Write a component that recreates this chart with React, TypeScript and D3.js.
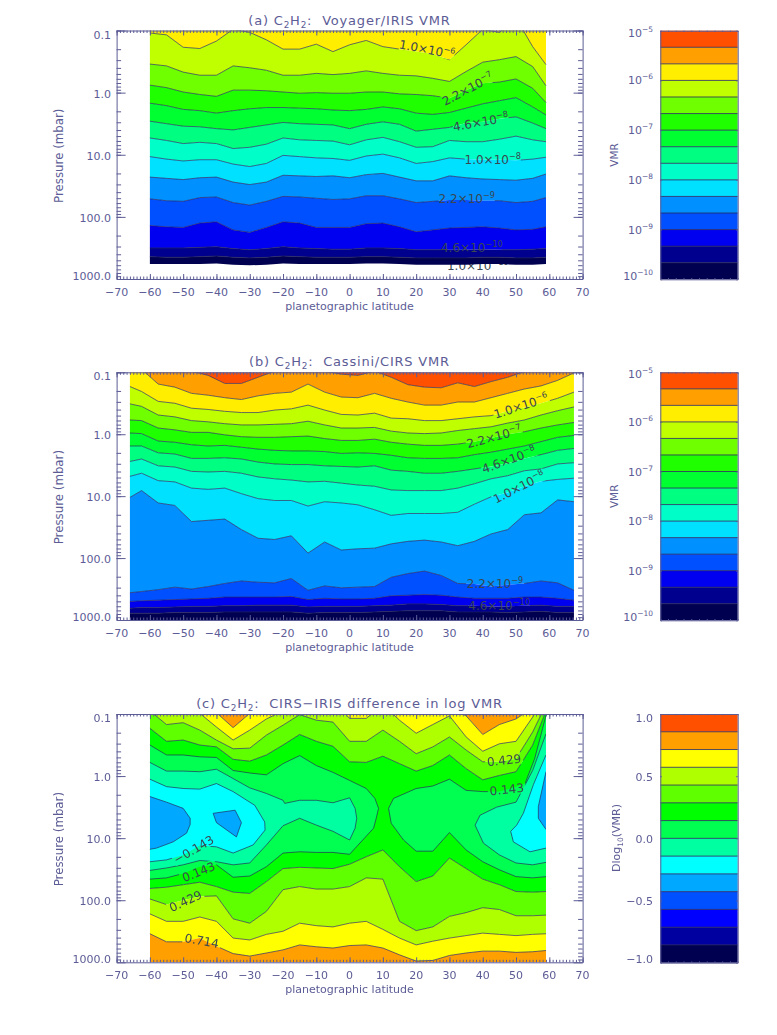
import React, { useEffect, useRef } from 'react';
import * as d3 from 'd3';

// log10(pressure / mbar) of each contour
const irisLat = [-60,-55,-50,-45,-40,-35,-30,-25,-20,-15,-10,-5,0,5,10,15,20,25,30,35,40,45,50,55,59];
const iris1 = [-0.96,-0.93,-0.73,-0.71,-0.83,-1.02,-0.97,-0.85,-0.70,-0.70,-0.78,-0.66,-0.77,-0.84,-0.74,-0.70,-0.66,-0.62,-0.53,-0.77,-1.02,-0.97,-1.2,-0.74,-0.45];
const iris2 = [-0.46,-0.43,-0.33,-0.28,-0.28,-0.43,-0.40,-0.36,-0.28,-0.28,-0.31,-0.29,-0.31,-0.35,-0.31,-0.28,-0.27,-0.23,-0.18,-0.34,-0.49,-0.53,-0.58,-0.42,-0.11];
const iris3 = [-0.12,-0.08,-0.01,0.03,0.06,-0.04,-0.04,-0.03,-0.01,0.01,0,0.01,0.01,-0.01,-0.01,0.02,0.03,0.05,0.09,-0.04,-0.15,-0.17,-0.22,-0.07,0.16];
const iris4 = [0.17,0.21,0.27,0.29,0.33,0.29,0.26,0.24,0.24,0.25,0.26,0.28,0.29,0.27,0.23,0.26,0.33,0.35,0.32,0.25,0.18,0.13,0.08,0.23,0.36];
const iris5 = [0.46,0.50,0.54,0.55,0.58,0.60,0.56,0.52,0.48,0.50,0.51,0.52,0.58,0.51,0.47,0.51,0.62,0.59,0.56,0.49,0.47,0.42,0.39,0.49,0.58];
const iris6 = [0.73,0.77,0.82,0.80,0.82,0.90,0.88,0.83,0.73,0.76,0.77,0.78,0.84,0.76,0.72,0.79,0.88,0.87,0.77,0.79,0.79,0.75,0.70,0.76,0.79];
const iris7 = [1.03,1.07,1.10,1.08,1.08,1.15,1.19,1.14,1.01,1.03,1.05,1.06,1.09,1.02,0.99,1.05,1.14,1.11,1.05,1.07,1.08,1.08,1.09,1.07,1.04];
const iris8 = [1.36,1.38,1.40,1.37,1.36,1.44,1.48,1.44,1.33,1.34,1.35,1.34,1.37,1.32,1.30,1.36,1.42,1.42,1.34,1.37,1.39,1.40,1.41,1.38,1.31];
const iris9 = [1.71,1.74,1.75,1.69,1.68,1.77,1.81,1.75,1.67,1.68,1.70,1.72,1.71,1.66,1.66,1.71,1.77,1.75,1.73,1.73,1.74,1.74,1.77,1.75,1.69];
const iris10 = [2.14,2.16,2.17,2.10,2.08,2.21,2.25,2.17,2.08,2.10,2.17,2.17,2.17,2.11,2.10,2.16,2.24,2.21,2.18,2.17,2.16,2.18,2.21,2.20,2.16];
const iris11 = [2.50,2.50,2.50,2.49,2.48,2.51,2.53,2.51,2.48,2.50,2.51,2.52,2.52,2.50,2.50,2.51,2.53,2.53,2.53,2.53,2.52,2.53,2.53,2.52,2.51];
const iris12 = [2.64,2.65,2.65,2.64,2.63,2.65,2.66,2.65,2.63,2.64,2.65,2.65,2.65,2.64,2.64,2.65,2.66,2.66,2.66,2.66,2.65,2.65,2.66,2.66,2.65];
const iris13 = [2.76,2.76,2.76,2.76,2.75,2.77,2.78,2.77,2.75,2.76,2.76,2.76,2.76,2.75,2.75,2.76,2.77,2.77,2.77,2.77,2.76,2.76,2.77,2.77,2.76];

const cirsLat = [-66,-62.5,-57.5,-52.5,-47.5,-42.5,-37.5,-32.5,-27.5,-22.5,-17.5,-12.5,-7.5,-2.5,2.5,7.5,12.5,17.5,22.5,27.5,32.5,37.5,42.5,47.5,52.5,57.5,62.5,67.4];
const cirs0 = [-1.06,-1.06,-1.06,-1.06,-1.02,-0.95,-0.82,-0.82,-0.92,-1.02,-1.02,-1.04,-1.02,-0.97,-0.95,-1.02,-0.92,-0.80,-0.76,-0.75,-0.83,-0.77,-0.85,-0.92,-1.01,-1.06,-1.06,-1.06];
const cirs1 = [-1.06,-1.05,-0.81,-0.76,-0.66,-0.63,-0.59,-0.56,-0.62,-0.66,-0.68,-0.81,-0.68,-0.60,-0.59,-0.66,-0.58,-0.52,-0.47,-0.47,-0.52,-0.52,-0.59,-0.66,-0.73,-0.78,-0.87,-0.99];
const cirs2 = [-0.77,-0.69,-0.53,-0.50,-0.42,-0.40,-0.37,-0.35,-0.35,-0.39,-0.41,-0.47,-0.39,-0.32,-0.31,-0.34,-0.26,-0.25,-0.22,-0.22,-0.25,-0.28,-0.30,-0.37,-0.43,-0.50,-0.58,-0.68];
const cirs3 = [-0.49,-0.45,-0.31,-0.28,-0.22,-0.20,-0.17,-0.15,-0.15,-0.16,-0.17,-0.21,-0.15,-0.10,-0.10,-0.11,-0.05,-0.02,-0.01,-0.02,-0.06,-0.09,-0.12,-0.18,-0.23,-0.31,-0.38,-0.44];
const cirs4 = [-0.23,-0.22,-0.10,-0.07,-0.03,-0.03,0.01,0.04,0.05,0.05,0.04,0.03,0.07,0.10,0.10,0.08,0.13,0.16,0.18,0.18,0.16,0.12,0.06,0,-0.04,-0.10,-0.15,-0.19];
const cirs5 = [-0.02,-0.01,0.11,0.13,0.17,0.19,0.18,0.21,0.24,0.26,0.27,0.27,0.28,0.31,0.30,0.31,0.34,0.38,0.39,0.39,0.38,0.33,0.29,0.24,0.19,0.12,0.05,0.02];
const cirs6 = [0.19,0.19,0.30,0.32,0.39,0.39,0.38,0.40,0.45,0.48,0.49,0.49,0.51,0.52,0.53,0.51,0.58,0.60,0.63,0.63,0.60,0.56,0.52,0.47,0.39,0.33,0.26,0.23];
const cirs7 = [0.44,0.40,0.51,0.53,0.60,0.61,0.60,0.63,0.69,0.72,0.74,0.77,0.76,0.79,0.82,0.84,0.90,0.91,0.91,0.91,0.87,0.80,0.72,0.67,0.59,0.56,0.48,0.46];
const cirs8 = [0.68,0.63,0.75,0.77,0.87,0.89,0.87,0.96,1.04,1.07,1.07,1.16,1.09,1.11,1.14,1.22,1.31,1.28,1.28,1.28,1.26,1.13,1.01,0.94,0.84,0.76,0.73,0.71];
const cirs9 = [1.02,0.91,1.11,1.15,1.41,1.39,1.37,1.54,1.68,1.70,1.64,1.92,1.74,1.87,1.85,1.84,1.77,1.73,1.71,1.74,1.80,1.73,1.61,1.54,1.30,1.27,1.06,1.09];
const cirs10 = [2.56,2.54,2.51,2.47,2.50,2.46,2.41,2.37,2.39,2.40,2.33,2.52,2.45,2.48,2.47,2.46,2.31,2.25,2.21,2.28,2.41,2.42,2.46,2.43,2.41,2.37,2.40,2.52];
const cirs11 = [2.70,2.69,2.68,2.67,2.66,2.65,2.63,2.63,2.63,2.63,2.62,2.67,2.65,2.66,2.66,2.65,2.61,2.60,2.59,2.60,2.63,2.65,2.65,2.65,2.63,2.63,2.65,2.68];
const cirs12 = [2.81,2.80,2.80,2.79,2.78,2.78,2.77,2.77,2.76,2.76,2.76,2.79,2.78,2.78,2.78,2.77,2.76,2.74,2.74,2.75,2.77,2.77,2.78,2.78,2.77,2.76,2.78,2.78];
const cirs13 = [2.89,2.89,2.89,2.88,2.88,2.88,2.87,2.87,2.87,2.87,2.87,2.89,2.88,2.88,2.88,2.87,2.86,2.85,2.85,2.85,2.87,2.87,2.87,2.88,2.87,2.86,2.88,2.88];

// panel (c): contours that run the whole width, on the iris latitudes
const diffUp714 = [-1.1,-1.1,-1.1,-1.1,-1.02,-0.78,-1.01,-1.1,-1.1,-1.1,-1.1,-1.1,-1.1,-1.1,-1.1,-1.1,-1.1,-1.1,-1.1,-0.97,-0.67,-0.83,-0.92,-1.1,-1.1];
const diffUp571 = [-1.1,-1.1,-1.1,-1.01,-0.79,-0.58,-0.74,-0.92,-1.05,-1.1,-1.1,-1.2,-0.93,-0.93,-1.15,-0.90,-0.69,-0.83,-0.97,-0.63,-0.40,-0.52,-0.56,-0.95,-1.3];
const diffUp429 = [-1.05,-0.83,-0.86,-0.74,-0.58,-0.44,-0.45,-0.66,-0.82,-0.99,-0.90,-0.87,-0.56,-0.56,-0.74,-0.56,-0.36,-0.47,-0.63,-0.42,-0.23,-0.23,-0.28,-0.71,-1.15];
const diffUp286 = [-0.77,-0.56,-0.58,-0.50,-0.47,-0.27,-0.24,-0.34,-0.50,-0.67,-0.56,-0.48,-0.23,-0.22,-0.32,-0.20,-0.08,-0.17,-0.34,-0.12,0.06,-0.01,-0.07,-0.50,-1.05];
const diffLo286 = [1.81,1.79,1.75,1.71,1.78,1.87,1.89,1.70,1.49,1.47,1.48,1.49,1.42,1.30,1.19,1.46,1.70,1.61,1.32,1.49,1.66,1.75,1.86,1.87,1.86];
const diffLo429 = [1.98,2.07,2.00,1.94,1.93,2.30,2.37,2.18,1.83,1.78,1.82,1.82,1.78,1.64,1.66,2.34,2.49,2.43,2.26,2.20,2.12,2.15,2.25,2.25,2.24];
const diffLo571 = [2.22,2.34,2.34,2.27,2.34,2.61,2.64,2.55,2.50,2.37,2.41,2.43,2.37,2.34,2.47,2.61,2.72,2.66,2.61,2.57,2.53,2.55,2.57,2.55,2.54];
const diffLo714 = [2.54,2.67,2.67,2.61,2.74,2.86,2.90,2.85,2.80,2.72,2.75,2.77,2.73,2.72,2.77,2.88,2.98,2.97,2.89,2.85,2.82,2.82,2.84,2.83,2.81];

// panel (c): contours that close on themselves, as [latitude, log10 p]
const ringLeft143 = [[-60,-.50],[-55,-.34],[-50,-.34],[-45,-.31],[-40,-.30],[-35,-.09],[-30,-.05],[-25,-.02],[-20,-.20],[-15,-.33],[-10,-.17],[-5,-.06],[0,.07],[5,.20],[7.6,.36],[8.7,.52],[8,.68],[7.2,.84],[0,1.26],[-5,1.23],[-10,1.23],[-15,1.22],[-20,1.24],[-25,1.46],[-30,1.61],[-35,1.63],[-40,1.43],[-45,1.46],[-50,1.57],[-55,1.64],[-60,1.66]];
const ringRight143 = [[59,-.98],[58,-.77],[55.6,-.28],[52.7,.12],[50,.17],[45,.25],[40,.25],[35,.23],[30,.05],[25,.16],[20,.20],[13.2,.36],[11.7,.52],[12.5,.76],[16.2,1.03],[20,1.21],[25,1.21],[30,.91],[35,1.19],[40,1.38],[45,1.51],[50,1.62],[55,1.64],[59,1.62]];
const ringLeft0 = [[-60,-.22],[-55,-.08],[-50,-.08],[-45,-.07],[-40,-.11],[-35,.04],[-30,.19],[-25,.28],[-20,.39],[-19.5,.44],[-15,.39],[-10,.39],[-5,.43],[0,.35],[1.65,.52],[2.15,.68],[1.65,.84],[0,1.03],[-5,.89],[-10,.79],[-15,.68],[-20,.80],[-25,1.11],[-30,1.40],[-35,1.43],[-40,1.38],[-45,1.36],[-50,1.43],[-55,1.48],[-60,1.52]];
const ringRight0 = [[59,-.68],[55,-.09],[50,.42],[44.2,.50],[39.2,.63],[37.7,.79],[40.2,1.08],[45,1.27],[50,1.40],[55,1.43],[59,1.39]];
const ringLeftM143 = [[-60,.05],[-55,.17],[-50,.20],[-45,.21],[-40,.12],[-35,.25],[-30,.42],[-28.5,.47],[-25.5,.74],[-25.4,.87],[-29,1.11],[-35,1.24],[-40,1.14],[-45,1.12],[-50,1.27],[-55,1.35],[-60,1.38]];
const ringRightM143 = [[59,-.34],[55.2,.14],[52.2,.60],[50.2,.79],[48.4,.89],[49.2,1.06],[54.2,1.22],[59,1.16]];
const ringLeftM286 = [[-60,.33],[-55,.42],[-50,.52],[-47.9,.68],[-47.9,.78],[-49,.92],[-53,1.06],[-58,1.16],[-60,1.18]];
const ringMidM286 = [[-41,.60],[-34.4,.55],[-32.5,.75],[-34,.98],[-40,.75],[-41,.60]];
const ringRightM286 = [[59,-.07],[56.7,.49],[56.7,.68],[59,.86]];

const vmrColors = ['#ff5000','#ffa000','#ffee00','#c0ff00','#70ff00','#20ff00','#00ff30','#00ff80','#00ffc8','#00e0ff','#0090ff','#0050ff','#0000f0','#00008f','#000050'];
const diffColors = ['#ff5000','#ffa000','#ffff00','#b0ff00','#60ff00','#00ff00','#00ff50','#00ffa0','#00ffff','#00a8ff','#0050ff','#0000ff','#0000a0','#000050'];

const latTicks = [-70,-60,-50,-40,-30,-20,-10,0,10,20,30,40,50,60,70];
const pressureTicks = [0.1,1,10,100,1000];
const vmrBarTicks = [-5,-6,-7,-8,-9,-10];
const diffBarTicks = [1,0.5,0,-0.5,-1];

// label: [mantissa, exponent, lat, log10 p, angle, width of the gap in the line]
const irisLabels = [
  ['1.0', '−6', 23.3, -0.70, 11, 56], ['2.2', '−7', 35.5, -0.06, -28, 58], ['4.6', '−8', 39.4, 0.47, -10, 56],
  ['1.0', '−8', 43, 1.07, 0, 56], ['2.2', '−9', 35.2, 1.71, 0, 56], ['4.6', '−10', 36.7, 2.50, 0, 60],
];
const cirsLabels = [
  ['1.0', '−6', 51.5, -0.46, -18, 58], ['2.2', '−7', 43.4, 0.04, -15, 58], ['4.6', '−8', 47.8, 0.41, -20, 58],
  ['1.0', '−8', 50.9, 0.85, -27, 58], ['2.2', '−9', 43.7, 2.41, 0, 58], ['4.6', '−10', 44.9, 2.76, 0, 62],
];
const diffLabels = [
  ['−0.143', '', -46.9, 1.18, -30, 46], ['0.143', '', -45.4, 1.54, -22, 38], ['0.429', '', -49.3, 2.01, -25, 38],
  ['0.714', '', -44.4, 2.65, 10, 38], ['0.429', '', 46.4, -0.26, -6, 38], ['0.143', '', 47.2, 0.21, -6, 38],
];

const INK = '#5c5c96';
const LINE = '#26265c';
const FONT = '"DejaVu Sans", sans-serif';

function rich(sel: any, parts: any[]) {
  // parts: [text, shift], shift -1 subscript, 1 superscript
  let prev = 0;
  parts.forEach(([t, s]) => {
    const off = s === 1 ? -5 : s === -1 ? 3 : 0;
    sel.append('tspan').attr('dy', off - prev).attr('font-size', s ? '0.68em' : null).text(t);
    prev = off;
  });
}

function title(svg: any, x: number, y: number, parts: any[], angle = 0, size = 13, spacing = 0.8) {
  const t = svg.append('text')
    .attr('transform', `translate(${x},${y}) rotate(${angle})`)
    .attr('text-anchor', 'middle').attr('font-family', FONT).attr('font-size', size)
    .attr('letter-spacing', spacing).attr('fill', INK).style('white-space', 'pre');
  rich(t, parts);
  return t;
}

function boxAxes(svg: any, x: any, y: any, xMinor: number[], yMinor: number[], xLen: number, yLen: number, xMajor: number[], yMajor: number[]) {
  const [x0, x1] = x.range();
  const y0 = Math.min(...y.range());
  const y1 = Math.max(...y.range());
  const sides = [
    [d3.axisBottom(x), `translate(0,${y1})`, -xLen, xMajor, xMinor],
    [d3.axisTop(x), `translate(0,${y0})`, -xLen, xMajor, xMinor],
    [d3.axisLeft(y), `translate(${x0},0)`, -yLen, yMajor, yMinor],
    [d3.axisRight(y), `translate(${x1},0)`, -yLen, yMajor, yMinor],
  ] as any[];
  sides.forEach(([axis, tr, len, major, minor]) => {
    const g = svg.append('g').attr('transform', tr).attr('color', INK).attr('fill', 'none');
    g.call(axis.tickValues(minor).tickSize(len / 2).tickSizeOuter(0).tickFormat(() => ''));
    g.call((s: any) => s.selectAll('text').remove());
    const g2 = svg.append('g').attr('transform', tr).attr('color', INK).attr('fill', 'none');
    g2.call(axis.tickValues(major).tickSize(len).tickSizeOuter(0).tickFormat(() => ''));
    g2.call((s: any) => { s.selectAll('text').remove(); s.select('.domain').remove(); });
  });
}

function drawFrame(svg: any, top: number, bottom: number, heading: any[]) {
  const x = d3.scaleLinear().domain([-70, 70]).range([116.6, 582.6]);
  const y = d3.scaleLog().domain([0.1, 1000]).range([top, bottom]);
  const xMinor = d3.range(-70, 71, 1);
  const yMinor = d3.range(-1, 3).flatMap(e => d3.range(1, 10).map(m => m * 10 ** e));
  title(svg, 349.5, top - 6, heading);
  return { x, y, xMinor, yMinor };
}

function frameOnTop(svg: any, f: any, top: number, bottom: number, yTitle = 'Pressure (mbar)') {
  boxAxes(svg, f.x, f.y, f.xMinor, f.yMinor, 5, 9, latTicks, pressureTicks);
  const lab = (t: string, xp: number, yp: number, anchor = 'middle') => svg.append('text')
    .attr('x', xp).attr('y', yp).attr('text-anchor', anchor).attr('font-family', FONT)
    .attr('font-size', 11).attr('fill', INK).text(t);
  latTicks.forEach(v => lab(v < 0 ? `−${-v}` : `${v}`, f.x(v), bottom + 17));
  pressureTicks.forEach((p, i) => {
    const shift = i === 0 ? 8 : i === pressureTicks.length - 1 ? 1 : 5;
    lab(p < 1 ? '0.1' : p.toFixed(1), 111, f.y(p) + shift, 'end');
  });
  lab('planetographic latitude', 349.5, bottom + 31);
  title(svg, 63, (top + bottom) / 2 + 1, [[yTitle, 0]], -90, 11.8, 0);
}

function contourLabels(g: any, f: any, labels: any[]) {
  labels.forEach(([m, e, lat, lp, a]) => {
    const t = g.append('text')
      .attr('transform', `translate(${f.x(lat)},${f.y(10 ** lp)}) rotate(${a})`)
      .attr('y', 4.5).attr('text-anchor', 'middle').attr('font-family', FONT)
      .attr('font-size', 12).attr('fill', '#3a4650');
    rich(t, e ? [[`${m}×10`, 0], [e, 1]] : [[m, 0]]);
  });
}

function lineMask(svg: any, f: any, id: string, labels: any[]) {
  const m = svg.append('mask').attr('id', id).attr('maskUnits', 'userSpaceOnUse')
    .attr('x', 0).attr('y', 0).attr('width', 777).attr('height', 1035);
  m.append('rect').attr('width', 777).attr('height', 1035).attr('fill', '#fff');
  labels.forEach(([, , lat, lp, a, w]) => {
    m.append('rect').attr('x', -w / 2).attr('y', -6).attr('width', w).attr('height', 12).attr('fill', '#000')
      .attr('transform', `translate(${f.x(lat)},${f.y(10 ** lp)}) rotate(${a})`);
  });
}

function stackedPanel(svg: any, opts: any) {
  const { top, bottom, heading, lats, contours, firstBand, floor, labels, id, under } = opts;
  const f = drawFrame(svg, top, bottom, heading);
  const xs = lats.map((d: number) => f.x(d));
  const yOf = (v: number) => f.y(10 ** v);
  svg.append('clipPath').attr('id', `${id}-clip`).append('rect')
    .attr('x', 116.6).attr('y', top).attr('width', 466).attr('height', bottom - top);
  const plot = svg.append('g').attr('clip-path', `url(#${id}-clip)`);
  if (under) contourLabels(plot, f, under);

  // the band above the first contour, then one band between each pair of contours
  const area = (upper: any, lower: any) => d3.area<number>()
    .x((_, i) => xs[i]).y0((_, i) => (upper ? yOf(upper[i]) : top)).y1((_, i) => (lower ? yOf(lower[i]) : bottom));
  const edges = [null, ...contours, ...(floor ? [] : [null])];
  d3.range(edges.length - 1).forEach(k => {
    plot.append('path').attr('d', area(edges[k], edges[k + 1])(lats)).attr('fill', vmrColors[firstBand + k]);
  });

  lineMask(svg, f, `${id}-mask`, labels);
  const lines = plot.append('g').attr('mask', `url(#${id}-mask)`);
  const line = d3.line<number>().x((_, i) => xs[i]).y(d => yOf(d));
  contours.slice(0, floor ? contours.length - 1 : contours.length).forEach((c: number[]) => {
    lines.append('path').attr('d', line(c)).attr('fill', 'none').attr('stroke', LINE).attr('stroke-width', 0.8).attr('opacity', 0.85);
  });
  contourLabels(plot, f, labels);
  frameOnTop(svg, f, top, bottom);
}

function diffPanel(svg: any, top: number, bottom: number, heading: any[]) {
  const id = 'diff';
  const f = drawFrame(svg, top, bottom, heading);
  const xs = irisLat.map(d => f.x(d));
  const yOf = (v: number) => f.y(10 ** v);
  svg.append('clipPath').attr('id', `${id}-clip`).append('rect')
    .attr('x', f.x(-60)).attr('y', top).attr('width', f.x(59) - f.x(-60)).attr('height', bottom - top);
  const plot = svg.append('g').attr('clip-path', `url(#${id}-clip)`);

  const whole = [diffUp714, diffUp571, diffUp429, diffUp286, diffLo286, diffLo429, diffLo571, diffLo714];
  const wholeBands = [1, 2, 3, 4, 5, 4, 3, 2, 1];
  const edges: any[] = [null, ...whole, null];
  wholeBands.forEach((b, k) => {
    const a = d3.area<number>().x((_, i) => xs[i])
      .y0((_, i) => (edges[k] ? yOf(edges[k][i]) : top))
      .y1((_, i) => (edges[k + 1] ? yOf(edges[k + 1][i]) : bottom));
    plot.append('path').attr('d', a(irisLat)).attr('fill', diffColors[b]);
  });

  const ringLine = d3.line<number[]>().x(d => f.x(d[0])).y(d => yOf(d[1]));
  const rings: [number[][], number][] = [
    [ringLeft143, 6], [ringRight143, 6], [ringLeft0, 7], [ringRight0, 7],
    [ringLeftM143, 8], [ringRightM143, 8], [ringLeftM286, 9], [ringMidM286, 9], [ringRightM286, 9],
  ];
  rings.forEach(([r, b]) => plot.append('path').attr('d', ringLine(r)).attr('fill', diffColors[b]));

  lineMask(svg, f, `${id}-mask`, diffLabels);
  const lines = plot.append('g').attr('mask', `url(#${id}-mask)`);
  const line = d3.line<number>().x((_, i) => xs[i]).y(d => yOf(d));
  whole.forEach(c => lines.append('path').attr('d', line(c)).attr('fill', 'none').attr('stroke', LINE).attr('stroke-width', 0.8).attr('opacity', 0.85));
  rings.forEach(([r]) => lines.append('path').attr('d', ringLine(r)).attr('fill', 'none').attr('stroke', LINE).attr('stroke-width', 0.8).attr('opacity', 0.85));
  contourLabels(plot, f, diffLabels);
  frameOnTop(svg, f, top, bottom);
}

function colorBar(svg: any, top: number, bottom: number, lo: number, hi: number, colors: string[]) {
  const x = d3.scaleLinear().domain([0, 10]).range([660.3, 737.7]);
  const y = d3.scaleLinear().domain([lo, hi]).range([bottom, top]);
  const edges = d3.range(colors.length + 1).map(i => hi - (i * (hi - lo)) / colors.length);
  colors.forEach((c, i) => {
    svg.append('rect').attr('x', x(0)).attr('width', x(10) - x(0))
      .attr('y', y(edges[i])).attr('height', y(edges[i + 1]) - y(edges[i])).attr('fill', c);
  });
  edges.slice(1, -1).forEach(e => {
    svg.append('line').attr('x1', x(0)).attr('x2', x(10)).attr('y1', y(e)).attr('y2', y(e))
      .attr('stroke', LINE).attr('stroke-width', 0.8);
  });
  boxAxes(svg, x, y, d3.range(0, 11), [], 2.5, 1.5, [], y.ticks(5));
}

function App() {
  const ref = useRef<SVGSVGElement>(null);

  useEffect(() => {
    const svg = d3.select(ref.current);
    svg.selectAll('*').remove();

    stackedPanel(svg, {
      id: 'iris', top: 30.5, bottom: 279, lats: irisLat, firstBand: 2, floor: true, labels: irisLabels,
      contours: [iris1, iris2, iris3, iris4, iris5, iris6, iris7, iris8, iris9, iris10, iris11, iris12, iris13],
      heading: [['(a) C', 0], ['2', -1], ['H', 0], ['2', -1], [':  Voyager/IRIS VMR', 0]],
      under: [['1.0', '−10', 38.5, 2.79, 0, 0]],
    });
    stackedPanel(svg, {
      id: 'cirs', top: 372.3, bottom: 620, lats: cirsLat, firstBand: 0, floor: false, labels: cirsLabels,
      contours: [cirs0, cirs1, cirs2, cirs3, cirs4, cirs5, cirs6, cirs7, cirs8, cirs9, cirs10, cirs11, cirs12, cirs13],
      heading: [['(b) C', 0], ['2', -1], ['H', 0], ['2', -1], [':  Cassini/CIRS VMR', 0]],
    });
    diffPanel(svg, 714, 962.3, [['(c) C', 0], ['2', -1], ['H', 0], ['2', -1], [':  CIRS−IRIS difference in log VMR', 0]]);

    colorBar(svg, 30.7, 279.3, -10, -5, vmrColors);
    colorBar(svg, 372.3, 620.3, -10, -5, vmrColors);
    colorBar(svg, 714, 962.7, -1, 1, diffColors);

    // colour bar labels
    const barLabel = (yp: number, parts: any[]) => {
      const t = svg.append('text').attr('x', 653).attr('y', yp).attr('text-anchor', 'end')
        .attr('font-family', FONT).attr('font-size', 11).attr('fill', INK);
      rich(t, parts);
    };
    [[30.7, 279.3], [372.3, 620.3]].forEach(([t, b]) => {
      const y = d3.scaleLinear().domain([-10, -5]).range([b, t]);
      vmrBarTicks.forEach(v => {
        const shift = v === -5 ? 6 : v === -10 ? 1 : 4;
        barLabel(y(v) + shift, [['10', 0], [`−${-v}`, 1]]);
      });
      title(svg, 618, (t + b) / 2, [['VMR', 0]], -90, 10.5, 0);
    });
    const yDiff = d3.scaleLinear().domain([-1, 1]).range([962.7, 714]);
    diffBarTicks.forEach(v => {
      const shift = v === 1 ? 8 : v === -1 ? 0 : 4.5;
      barLabel(yDiff(v) + shift, [[`${v < 0 ? '−' : ''}${Math.abs(v).toFixed(1)}`, 0]]);
    });
    title(svg, 620, 838, [['Dlog', 0], ['10', -1], ['(VMR)', 0]], -90, 11, 0);
  }, []);

  return <svg ref={ref} width={777} height={1035} style={{ position: 'absolute', left: 0, top: 0, background: '#fff' }} />;
}

export default App;
